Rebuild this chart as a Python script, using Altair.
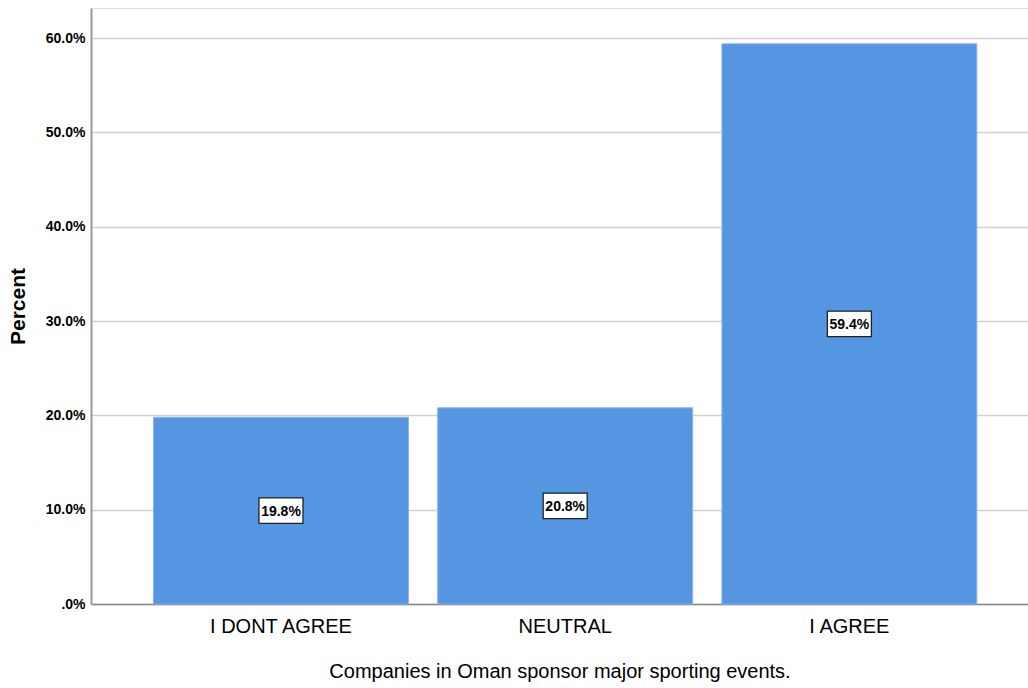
import altair as alt
import pandas as pd

categories = ["I DONT AGREE", "NEUTRAL", "I AGREE"]
percents = [19.8, 20.8, 59.4]
label_texts = ["19.8%", "20.8%", "59.4%"]
y_ticks = [0, 10, 20, 30, 40, 50, 60]

df = pd.DataFrame({"cat": categories, "pct": percents, "label": label_texts})

FONT = "Liberation Sans, Arial, sans-serif"

x = alt.X(
    "cat:N",
    sort=categories,
    scale=alt.Scale(paddingInner=0.103, paddingOuter=0.2, align=0.55),
    axis=alt.Axis(
        title="Companies in Oman sponsor major sporting events.",
        labelAngle=0,
        labelFont=FONT,
        labelFontSize=20,
        labelColor="#000000",
        labelPadding=12,
        ticks=False,
        domainColor="#888888",
        domainWidth=1.5,
        titleFont=FONT,
        titleFontSize=20,
        titleFontWeight="normal",
        titleColor="#000000",
        titlePadding=25,
        grid=False,
    ),
)

y_scale = alt.Scale(domain=[0, 63.2], nice=False)

bars = alt.Chart(df).mark_bar(
    color="#5596e3", stroke="#86b3ec", strokeWidth=1
).encode(
    x=x,
    y=alt.Y(
        "pct:Q",
        scale=y_scale,
        axis=alt.Axis(
            title="Percent",
            values=y_ticks,
            labelExpr="datum.value == 0 ? '.0%' : format(datum.value, '.1f') + '%'",
            labelFont=FONT,
            labelFontSize=14,
            labelFontWeight="bold",
            labelColor="#000000",
            labelPadding=6,
            ticks=False,
            domainColor="#999999",
            domainWidth=2,
            gridColor="#d0d0d0",
            gridWidth=1.5,
            titleFont=FONT,
            titleFontSize=21,
            titleFontWeight="bold",
            titleColor="#000000",
            titleAngle=-90,
            titleX=-73,
            titleY=298,
            titleAlign="center",
            titleBaseline="middle",
        ),
    ),
)

base = alt.Chart(df).transform_calculate(mid="datum.pct / 2")

boxes = base.mark_point(
    shape="M-1,-0.58L1,-0.58L1,0.58L-1,0.58Z",
    size=1936,
    filled=True,
    fill="#ffffff",
    stroke="#222222",
    strokeWidth=1.3,
    opacity=1,
).encode(
    x=alt.X("cat:N", sort=categories),
    y=alt.Y("mid:Q", scale=y_scale),
)

texts = base.mark_text(
    font=FONT, fontSize=14, fontWeight="bold", color="#000000", baseline="middle", dy=1
).encode(
    x=alt.X("cat:N", sort=categories),
    y=alt.Y("mid:Q", scale=y_scale),
    text="label:N",
)

chart = alt.layer(bars, boxes, texts).properties(
    width=937,
    height=596,
    autosize=alt.AutoSizeParams(type="none"),
    padding={"left": 91, "top": 8, "right": 0, "bottom": 84},
).configure_view(stroke=None).configure(background="#ffffff")

chart.save("out.html", embed_options={"renderer": "svg", "actions": False})
